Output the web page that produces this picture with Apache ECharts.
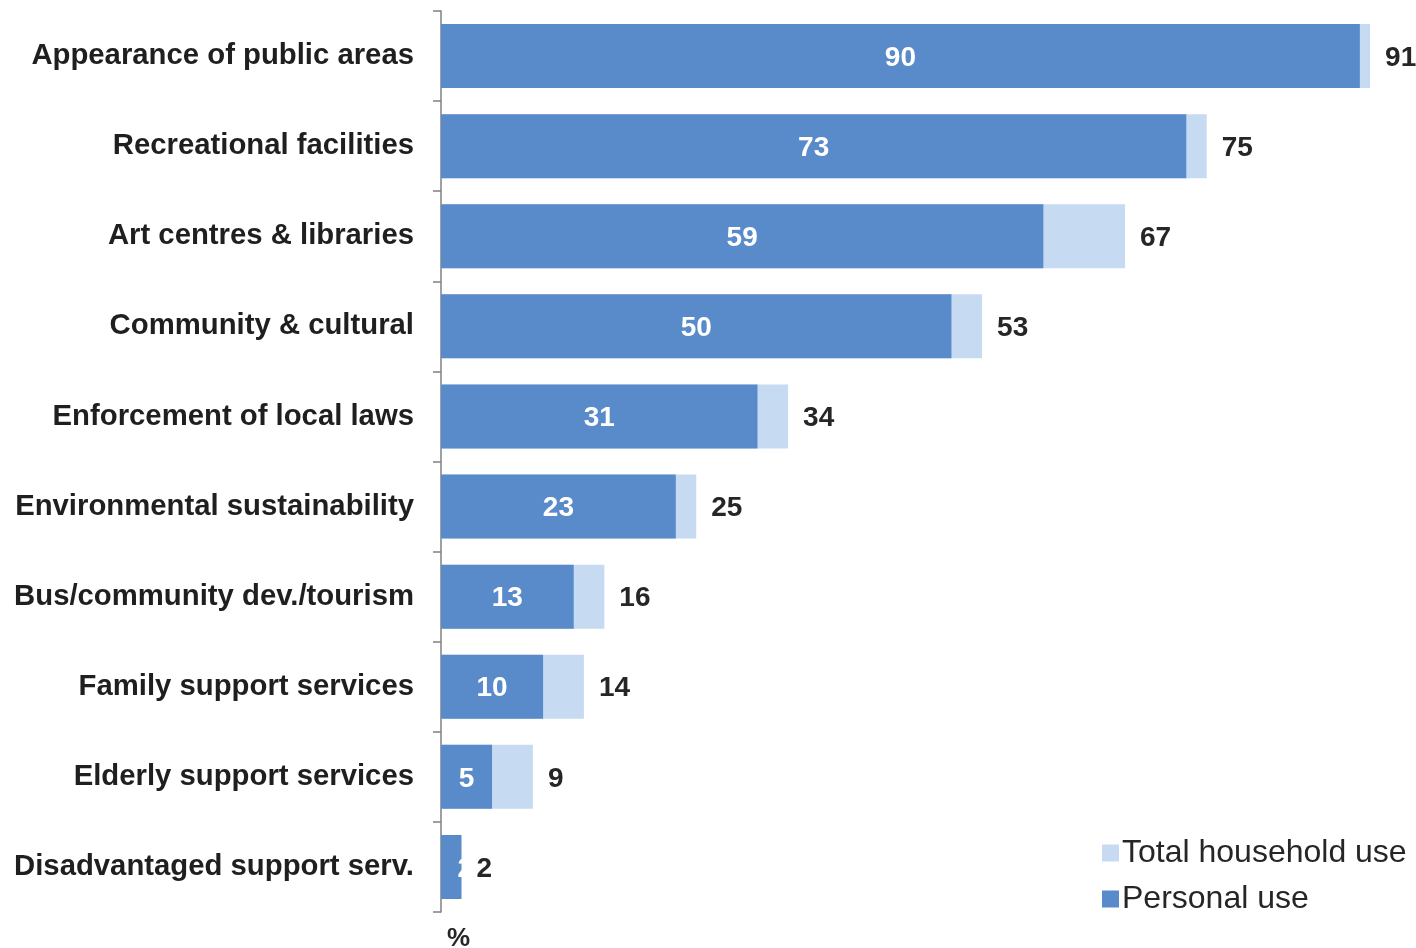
<!DOCTYPE html>
<html>
<head>
<meta charset="utf-8">
<script src="https://cdn.jsdelivr.net/npm/echarts@6/dist/echarts.min.js"></script>
<style>
  html, body { margin: 0; padding: 0; background: #ffffff; }
  #chart { width: 1416px; height: 948px; }
</style>
</head>
<body>
<div id="chart"></div>
<script>
// Service categories, listed top to bottom
const categories = [
  'Appearance of public areas',
  'Recreational facilities',
  'Art centres & libraries',
  'Community & cultural',
  'Enforcement of local laws',
  'Environmental sustainability',
  'Bus/community dev./tourism',
  'Family support services',
  'Elderly support services',
  'Disadvantaged support serv.'
];
// Share of respondents (%)
const totalHouseholdUse = [91, 75, 67, 53, 34, 25, 16, 14, 9, 2];
const personalUse = [90, 73, 59, 50, 31, 23, 13, 10, 5, 2];

const FONT = '"Liberation Sans", Arial, sans-serif';
const chart = echarts.init(document.getElementById('chart'));

// Very short bars cannot hold their white label; it is pushed past the bar end,
// where it disappears against the white background.
const personalData = personalUse.map(v =>
  v < 3 ? { value: v, label: { offset: [14, 2] } } : v
);

chart.setOption({
  animation: false,
  textStyle: { fontFamily: FONT },
  grid: { left: 441, top: 11, width: 975, height: 901, containLabel: false },
  xAxis: {
    type: 'value', min: 0, max: 95.5, show: false
  },
  yAxis: {
    type: 'category',
    data: categories,
    inverse: true,
    axisLine: { show: true, lineStyle: { color: '#808080', width: 1.5 } },
    axisTick: { show: true, length: 8, lineStyle: { color: '#808080', width: 1.5 } },
    axisLabel: {
      margin: 27, fontSize: 29.3, fontWeight: 'bold', color: '#1f1f1f', fontFamily: FONT,
      padding: [8, 0, 0, 0]
    },
    splitLine: { show: false }
  },
  legend: {
    orient: 'vertical',
    left: 1097, top: 832,
    itemWidth: 17, itemHeight: 17, itemGap: 14,
    icon: 'rect',
    textStyle: { fontSize: 32, color: '#262626', fontFamily: FONT, padding: [0, 0, 0, -2] },
    data: ['Total household use', 'Personal use']
  },
  series: [
    {
      name: 'Total household use',
      type: 'bar',
      data: totalHouseholdUse,
      barWidth: 64,
      barGap: '-100%',
      itemStyle: { color: '#c6dbf2' },
      label: {
        show: true, position: 'right', distance: 15, offset: [0, 2],
        fontSize: 28, fontWeight: 'bold', color: '#262626', fontFamily: FONT
      },
      z: 1
    },
    {
      name: 'Personal use',
      type: 'bar',
      data: personalData,
      barWidth: 64,
      itemStyle: { color: '#598bca' },
      label: {
        show: true, position: 'inside', offset: [0, 2],
        fontSize: 28, fontWeight: 'bold', color: '#ffffff', fontFamily: FONT
      },
      z: 2
    }
  ],
  graphic: [
    {
      type: 'text', left: 447, top: 926,
      style: { text: '%', font: 'bold 26px ' + FONT, fill: '#262626' }
    }
  ]
});
</script>
</body>
</html>
